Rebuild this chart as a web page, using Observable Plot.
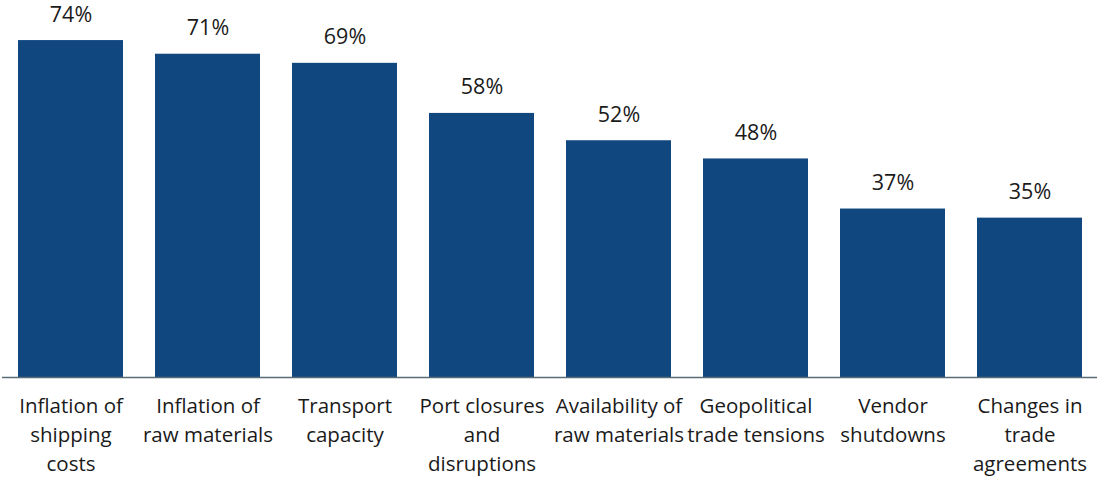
<!DOCTYPE html>
<html>
<head>
<meta charset="utf-8">
<script src="https://cdn.jsdelivr.net/npm/d3@7"></script>
<script src="https://cdn.jsdelivr.net/npm/@observablehq/plot@0.6"></script>
<style>
  html, body { margin: 0; padding: 0; background: #fff; }
  #chart svg { display: block; }
</style>
</head>
<body>
<div id="chart"></div>
<script>
const categories = [
  "Inflation of\nshipping\ncosts",
  "Inflation of\nraw materials",
  "Transport\ncapacity",
  "Port closures\nand\ndisruptions",
  "Availability of\nraw materials",
  "Geopolitical\ntrade tensions",
  "Vendor\nshutdowns",
  "Changes in\ntrade\nagreements"
];
const values = [74, 71, 69, 58, 52, 48, 37, 35];

const data = categories.map((c, i) => ({category: c, value: values[i]}));

const chart = Plot.plot({
  width: 1097,
  height: 477,
  marginLeft: 2,
  marginRight: 0,
  marginTop: 0,
  marginBottom: 100,
  style: {fontFamily: "'Open Sans', Lato, sans-serif", background: "#fff"},
  x: {domain: categories, paddingInner: 0.234, paddingOuter: 0.111, axis: null},
  y: {domain: [0, 82.8], axis: null},
  marks: [
    Plot.barY(data, {x: "category", y: "value", fill: "#10477f"}),
    Plot.ruleY([0], {stroke: "#5a6b78", strokeWidth: 1.5}),
    Plot.text(data, {
      x: "category", y: "value",
      text: d => d.value + "%",
      lineAnchor: "bottom", dy: -19,
      fontSize: 21.5, fill: "#1a1a1a"
    }),
    Plot.text(data, {
      x: "category", y: () => 0,
      text: "category",
      lineAnchor: "top", dy: 15,
      lineHeight: 1.415,
      fontSize: 20.5, fill: "#1a1a1a"
    })
  ]
});
document.getElementById("chart").appendChild(chart);
</script>
</body>
</html>
